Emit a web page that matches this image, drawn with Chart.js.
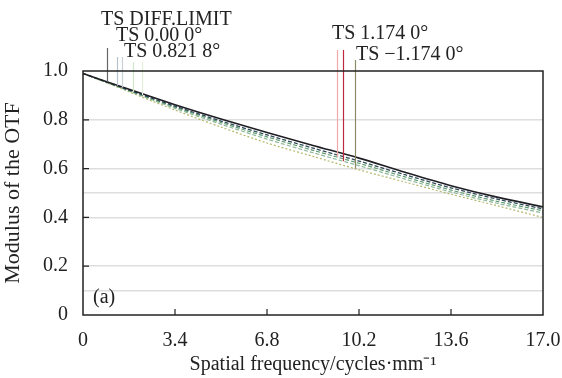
<!DOCTYPE html>
<html>
<head>
<meta charset="utf-8">
<script src="https://cdn.jsdelivr.net/npm/chart.js@4.4.1/dist/chart.umd.min.js"></script>
<style>
  body { margin: 0; background: #fff; }
  #wrap { width: 562px; height: 378px; }
</style>
</head>
<body>
<div id="wrap"><canvas id="graficoMTF" width="562" height="378"></canvas></div>
<script>
// spatial frequency (cycles/mm) sampled along the x axis
const freq = [0, 1.7, 3.4, 5.1, 6.8, 8.5, 10.2, 11.9, 13.6, 15.3, 17.0];

// MTF values
const diffLimit = [0.99, 0.925, 0.862, 0.803, 0.748, 0.695, 0.643, 0.585, 0.530, 0.483, 0.443];
const field000  = [0.99, 0.922, 0.856, 0.795, 0.738, 0.684, 0.631, 0.575, 0.521, 0.475, 0.435];
const field0821 = [0.99, 0.920, 0.852, 0.789, 0.730, 0.675, 0.622, 0.566, 0.512, 0.466, 0.427];
const field1174 = [0.99, 0.918, 0.847, 0.782, 0.721, 0.665, 0.612, 0.557, 0.504, 0.458, 0.418];
const fieldNeg1174 = [0.99, 0.915, 0.840, 0.770, 0.705, 0.650, 0.595, 0.545, 0.495, 0.448, 0.400];

const seriesNames = ["TS DIFF.LIMIT", "TS 0.00 0°", "TS 0.821 8°", "TS 1.174 0°", "TS \u22121.174 0°"];

const xTicks = [0, 3.4, 6.8, 10.2, 13.6, 17.0];
const yTicks = [0, 0.1, 0.2, 0.4, 0.5, 0.6, 0.8, 1.0];
const yLabeled = [0, 0.2, 0.4, 0.6, 0.8, 1.0];

// leader lines: frequency where each one meets its curve, and which curve
const leaderFreq = [0.89, 1.26, 1.44, 1.85, 2.18, 9.39, 9.61, 10.05];
const leaderSeries = [0, 1, 1, 2, 2, 2, 3, 4];

const fonte = "'Liberation Serif', 'Times New Roman', serif";
const corTexto = "#222";

const allSeries = [diffLimit, field000, field0821, field1174, fieldNeg1174];
const estilos = [
    { color: "#1e1e24", dash: [], width: 1.6 },
    { color: "#2f4a58", dash: [4, 2], width: 1.3 },
    { color: "#5f9a70", dash: [4, 2], width: 1.2 },
    { color: "#8fb89a", dash: [4, 2], width: 1.2 },
    { color: "#b4b86c", dash: [2, 2], width: 1.2 }
];
const leaderStyle = [
    { color: "#666", top: 48 },
    { color: "#b9c3cc", top: 57 },
    { color: "#c9d1d8", top: 57 },
    { color: "#cfe6c8", top: 62 },
    { color: "#e3efdb", top: 62 },
    { color: "#f2a8a8", top: 50 },
    { color: "#c02840", top: 50 },
    { color: "#8a8a66", top: 60 }
];
const textos = [
    { text: seriesNames[0], x: 101, y: 20 },
    { text: seriesNames[1], x: 116, y: 36 },
    { text: seriesNames[2], x: 124, y: 52 },
    { text: seriesNames[3], x: 332, y: 34 },
    { text: seriesNames[4], x: 356, y: 55 }
];

function valorNaCurva(serie, f) {
    for (let i = 0; i < freq.length - 1; i++) {
        if (f >= freq[i] && f <= freq[i + 1]) {
            const t = (f - freq[i]) / (freq[i + 1] - freq[i]);
            return serie[i] + t * (serie[i + 1] - serie[i]);
        }
    }
    return serie[serie.length - 1];
}

const datasets = allSeries.map((serie, i) => ({
    label: seriesNames[i],
    data: freq.map((f, k) => ({ x: f, y: serie[k] })),
    borderColor: estilos[i].color,
    borderDash: estilos[i].dash,
    borderWidth: estilos[i].width,
    pointRadius: 0,
    fill: false,
    tension: 0.3
}));

// frame, inward ticks, leader lines and the annotation texts
const extrasPlugin = {
    id: "extras",
    afterDatasetsDraw(chart) {
        const ctx = chart.ctx;
        const area = chart.chartArea;
        const xs = chart.scales.x;
        const ys = chart.scales.y;
        ctx.save();

        leaderFreq.forEach((f, i) => {
            const px = Math.round(xs.getPixelForValue(f)) + 0.5;
            const py = ys.getPixelForValue(valorNaCurva(allSeries[leaderSeries[i]], f));
            ctx.strokeStyle = leaderStyle[i].color;
            ctx.lineWidth = 1.2;
            ctx.beginPath();
            ctx.moveTo(px, leaderStyle[i].top);
            ctx.lineTo(px, py);
            ctx.stroke();
        });

        ctx.strokeStyle = "#222";
        ctx.lineWidth = 1.5;
        ctx.strokeRect(area.left, area.top, area.right - area.left, area.bottom - area.top);

        ctx.lineWidth = 1.2;
        ctx.beginPath();
        xTicks.slice(1, -1).forEach(v => {
            const px = xs.getPixelForValue(v);
            ctx.moveTo(px, area.bottom);
            ctx.lineTo(px, area.bottom - 6);
        });
        yLabeled.slice(1, -1).forEach(v => {
            const py = ys.getPixelForValue(v);
            ctx.moveTo(area.left, py);
            ctx.lineTo(area.left + 6, py);
        });
        ctx.stroke();

        ctx.fillStyle = corTexto;
        ctx.font = "20px " + fonte;
        ctx.textBaseline = "middle";
        ctx.textAlign = "left";
        textos.forEach(t => ctx.fillText(t.text, t.x, t.y));
        ctx.fillText("(a)", area.left + 10, area.bottom - 17);
        ctx.restore();
    }
};

const ctxMTF = document.getElementById("graficoMTF").getContext("2d");
new Chart(ctxMTF, {
    type: "line",
    data: { datasets },
    options: {
        responsive: false,
        animation: false,
        layout: { padding: { top: 71, right: 19, left: 0, bottom: 0 } },
        plugins: { legend: { display: false }, tooltip: { enabled: false } },
        scales: {
            x: {
                type: "linear",
                min: 0,
                max: 17,
                afterBuildTicks: s => { s.ticks = xTicks.map(v => ({ value: v })); },
                afterFit: s => {
                    s.height = 63;
                    s.paddingLeft = 0;
                    s.paddingRight = 0;
                },
                grid: { display: false, drawTicks: false },
                border: { display: false },
                ticks: {
                    padding: 14,
                    color: corTexto,
                    font: { family: fonte, size: 20 },
                    maxRotation: 0,
                    callback: v => v === 0 ? "0" : v.toFixed(1)
                },
                title: {
                    display: true,
                    text: "Spatial frequency/cycles·mm\u207B\u00B9",
                    color: corTexto,
                    font: { family: fonte, size: 20 },
                    padding: { top: 0, bottom: 1 }
                }
            },
            y: {
                min: 0,
                max: 1,
                afterBuildTicks: s => { s.ticks = yTicks.map(v => ({ value: v })); },
                afterFit: s => {
                    s.width = 83;
                    s.paddingTop = 0;
                    s.paddingBottom = 0;
                },
                grid: {
                    drawTicks: false,
                    lineWidth: 1.5,
                    color: c => (c.tick.value === 0 || c.tick.value === 1) ? "rgba(0,0,0,0)" : "#dedede"
                },
                border: { display: false },
                ticks: {
                    padding: 15,
                    color: corTexto,
                    font: { family: fonte, size: 20 },
                    callback: v => {
                        if (!yLabeled.includes(v)) return "";
                        return v === 0 ? "0" : v.toFixed(1);
                    }
                },
                title: {
                    display: true,
                    text: "Modulus of the OTF",
                    color: corTexto,
                    font: { family: fonte, size: 22 },
                    padding: { top: 0, bottom: 5 }
                }
            }
        }
    },
    plugins: [extrasPlugin]
});
</script>
</body>
</html>
